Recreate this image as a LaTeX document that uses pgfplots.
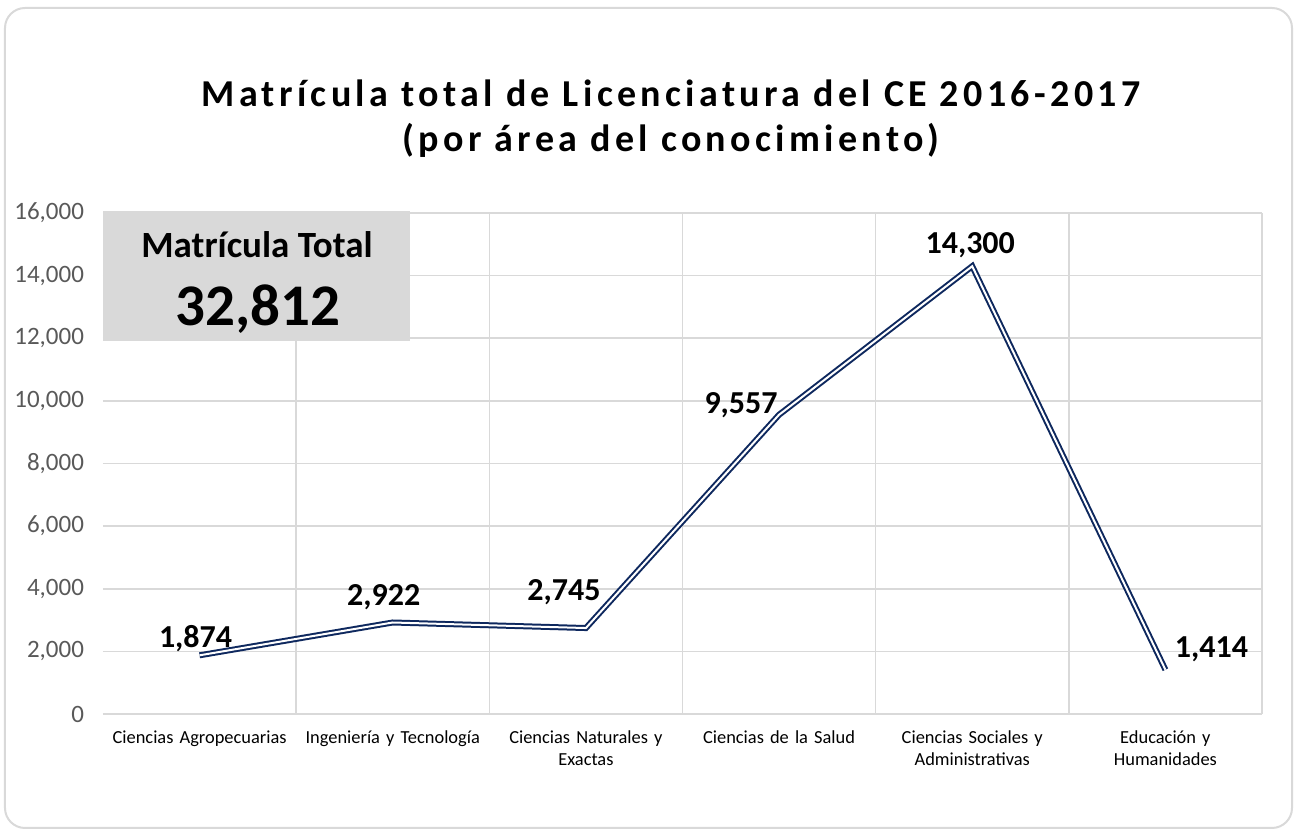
\documentclass[border=0pt]{standalone}
\usepackage{fontspec}
\setmainfont{Carlito}
\usepackage{pgfplots}
\pgfplotsset{compat=1.18}
\definecolor{navy}{RGB}{14,40,94}
\definecolor{gridc}{RGB}{217,217,217}
\definecolor{ticklab}{RGB}{89,89,89}
\definecolor{boxc}{RGB}{217,217,217}

\pgfplotsset{
  lbl/.style 2 args={draw=none, no markers, point meta=y,
    nodes near coords={\pgfmathprintnumber[fixed,precision=0,1000 sep={,}]{\pgfplotspointmeta}},
    every node near coord/.append style={text=black, anchor=center, font=\bfseries\fontsize{16}{18}\selectfont, xshift=#1, yshift=#2}},
}

\begin{document}
\begin{tikzpicture}
\path[use as bounding box] (-51.5pt,-60pt) rectangle (597pt,357pt);
\draw[gridc, line width=1pt, rounded corners=10pt] (-49pt,-57pt) rectangle (594.5pt,353pt);
\begin{axis}[at={(0,0)}, anchor=south west, scale only axis,
  width=579.5pt, height=250.5pt,
  xmin=-0.5, xmax=5.5, ymin=0, ymax=16000,
  xtick={0,...,5},
  xticklabels={Ciencias Agropecuarias, Ingeniería y Tecnología, {Ciencias Naturales y\\Exactas}, Ciencias de la Salud, {Ciencias Sociales y\\Administrativas}, {Educación y\\Humanidades}},
  minor xtick={0.5,1.5,...,5.5},
  ytick={0,2000,...,16000},
  scaled y ticks=false,
  ymajorgrids, xminorgrids,
  grid style={gridc, line width=0.8pt},
  major tick length=0pt, minor tick length=0pt,
  axis line style={draw=none},
  clip=false,
  /pgf/number format/assume math mode=true,
  /pgf/number format/1000 sep={,},
  yticklabel style={font=\fontsize{12.5}{14}\selectfont, text=ticklab, anchor=east, xshift=-6pt},
  xticklabel style={font=\fontsize{9.2}{11}\selectfont, text=black, align=center, text width=96pt, anchor=north, yshift=-5pt},
]
\addplot[navy, line width=1pt, double=white, double distance=1pt, no markers]
  coordinates {(0,1874) (1,2922) (2,2745) (3,9557) (4,14300) (5,1414)};
\addplot[lbl={-2pt}{8.5pt}] coordinates {(0,1874)};
\addplot[lbl={-4.5pt}{12.5pt}] coordinates {(1,2922)};
\addplot[lbl={-11pt}{18pt}] coordinates {(2,2745)};
\addplot[lbl={-19pt}{5pt}] coordinates {(3,9557)};
\addplot[lbl={-1pt}{10.5pt}] coordinates {(4,14300)};
\addplot[lbl={23pt}{10pt}] coordinates {(5,1414)};
\end{axis}
\fill[boxc] (0pt,186.5pt) rectangle (153.5pt,251.5pt);
\node[font=\bfseries\fontsize{18.5}{21}\selectfont] at (77pt,234.5pt) {Matrícula Total};
\node[font=\bfseries\fontsize{29.5}{34}\selectfont] at (77.5pt,202.5pt) {32,812};
\node[font=\bfseries\fontsize{19}{22.5}\selectfont\addfontfeatures{LetterSpace=11.5}, align=center] at (284pt,297.75pt) {Matrícula total de Licenciatura del CE 2016-2017\\(por área del conocimiento)};
\end{tikzpicture}
\end{document}
